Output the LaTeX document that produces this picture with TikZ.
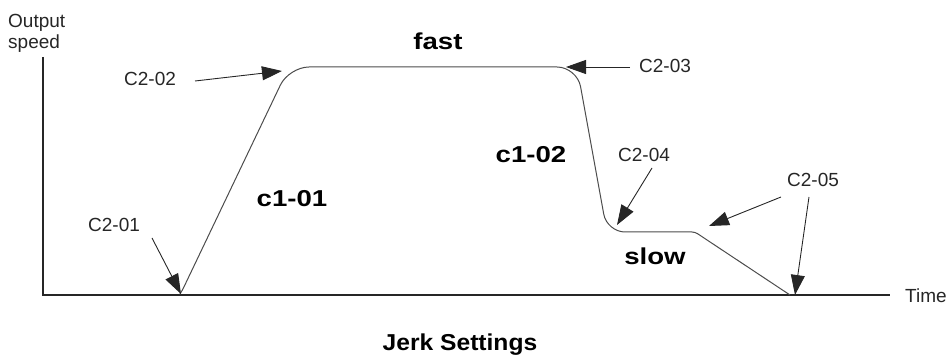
\documentclass[tikz,border=0pt]{standalone}
\usepackage{fontspec}
\setmainfont{Liberation Sans}
\usetikzlibrary{arrows.meta}
\begin{document}
\begin{tikzpicture}[x=1pt,y=-1pt,
  lbl/.style={font=\fontsize{19}{22}\selectfont, text=black!85, inner sep=0pt, anchor=base west},
  big/.style={font=\fontsize{23}{26}\selectfont\bfseries, inner sep=0pt, anchor=base},
  axis/.style={line width=1.2pt, black!85},
  profile/.style={line width=1pt, black!70},
  pointer/.style={line width=0.9pt, black!85, -{Triangle[length=20pt,width=14pt]}}]
\useasboundingbox (0,0) rectangle (946,358);

% axes
\coordinate (origin) at (43,295);
\coordinate (ytop) at (43,57);
\coordinate (xend) at (890,295);
\draw[axis] (ytop) -- (origin) -- (xend);
\node[lbl] (ylabel1) at (8,28) {Output};
\node[lbl] (ylabel2) at (8,49) {speed};
\node[lbl] (xlabel) at (905,303) {Time};

% speed profile
\draw[profile, rounded corners=4pt] (180,294) -- (182,291) [rounded corners=20pt] -- (289,67) -- (577,67) [rounded corners=18pt] -- (607,232) [rounded corners=3pt] -- (695,232) -- (790,295);

% section labels
\node[big] (fast) at (438,50) {\scalebox{1.2}[1]{fast}};
\node[big] (c101) at (292,207) {\scalebox{1.2}[1]{c1-01}};
\node[big] (c102) at (531,163) {\scalebox{1.2}[1]{c1-02}};
\node[big] (slow) at (655,265) {\scalebox{1.2}[1]{slow}};
\node[big] (title) at (460,350) {\scalebox{1.07}[1]{Jerk Settings}};

% parameter labels
\node[lbl] (c201) at (88,232) {C2-01};
\node[lbl] (c202) at (124,86) {C2-02};
\node[lbl] (c203) at (639,73) {C2-03};
\node[lbl] (c204) at (618,162) {C2-04};
\node[lbl] (c205) at (787,187) {C2-05};

% pointer ends
\coordinate (p201s) at (152,238); \coordinate (p201e) at (181,294);
\coordinate (p202s) at (195,81);  \coordinate (p202e) at (282,71);
\coordinate (p203s) at (630,67);  \coordinate (p203e) at (566,67);
\coordinate (p204s) at (652,168); \coordinate (p204e) at (617,225);
\coordinate (p205as) at (781,197); \coordinate (p205ae) at (709,226);
\coordinate (p205bs) at (809,197); \coordinate (p205be) at (795,295);

\draw[pointer] (p201s) -- (p201e);
\draw[pointer] (p202s) -- (p202e);
\draw[pointer] (p203s) -- (p203e);
\draw[pointer] (p204s) -- (p204e);
\draw[pointer] (p205as) -- (p205ae);
\draw[pointer] (p205bs) -- (p205be);
\end{tikzpicture}
\end{document}
